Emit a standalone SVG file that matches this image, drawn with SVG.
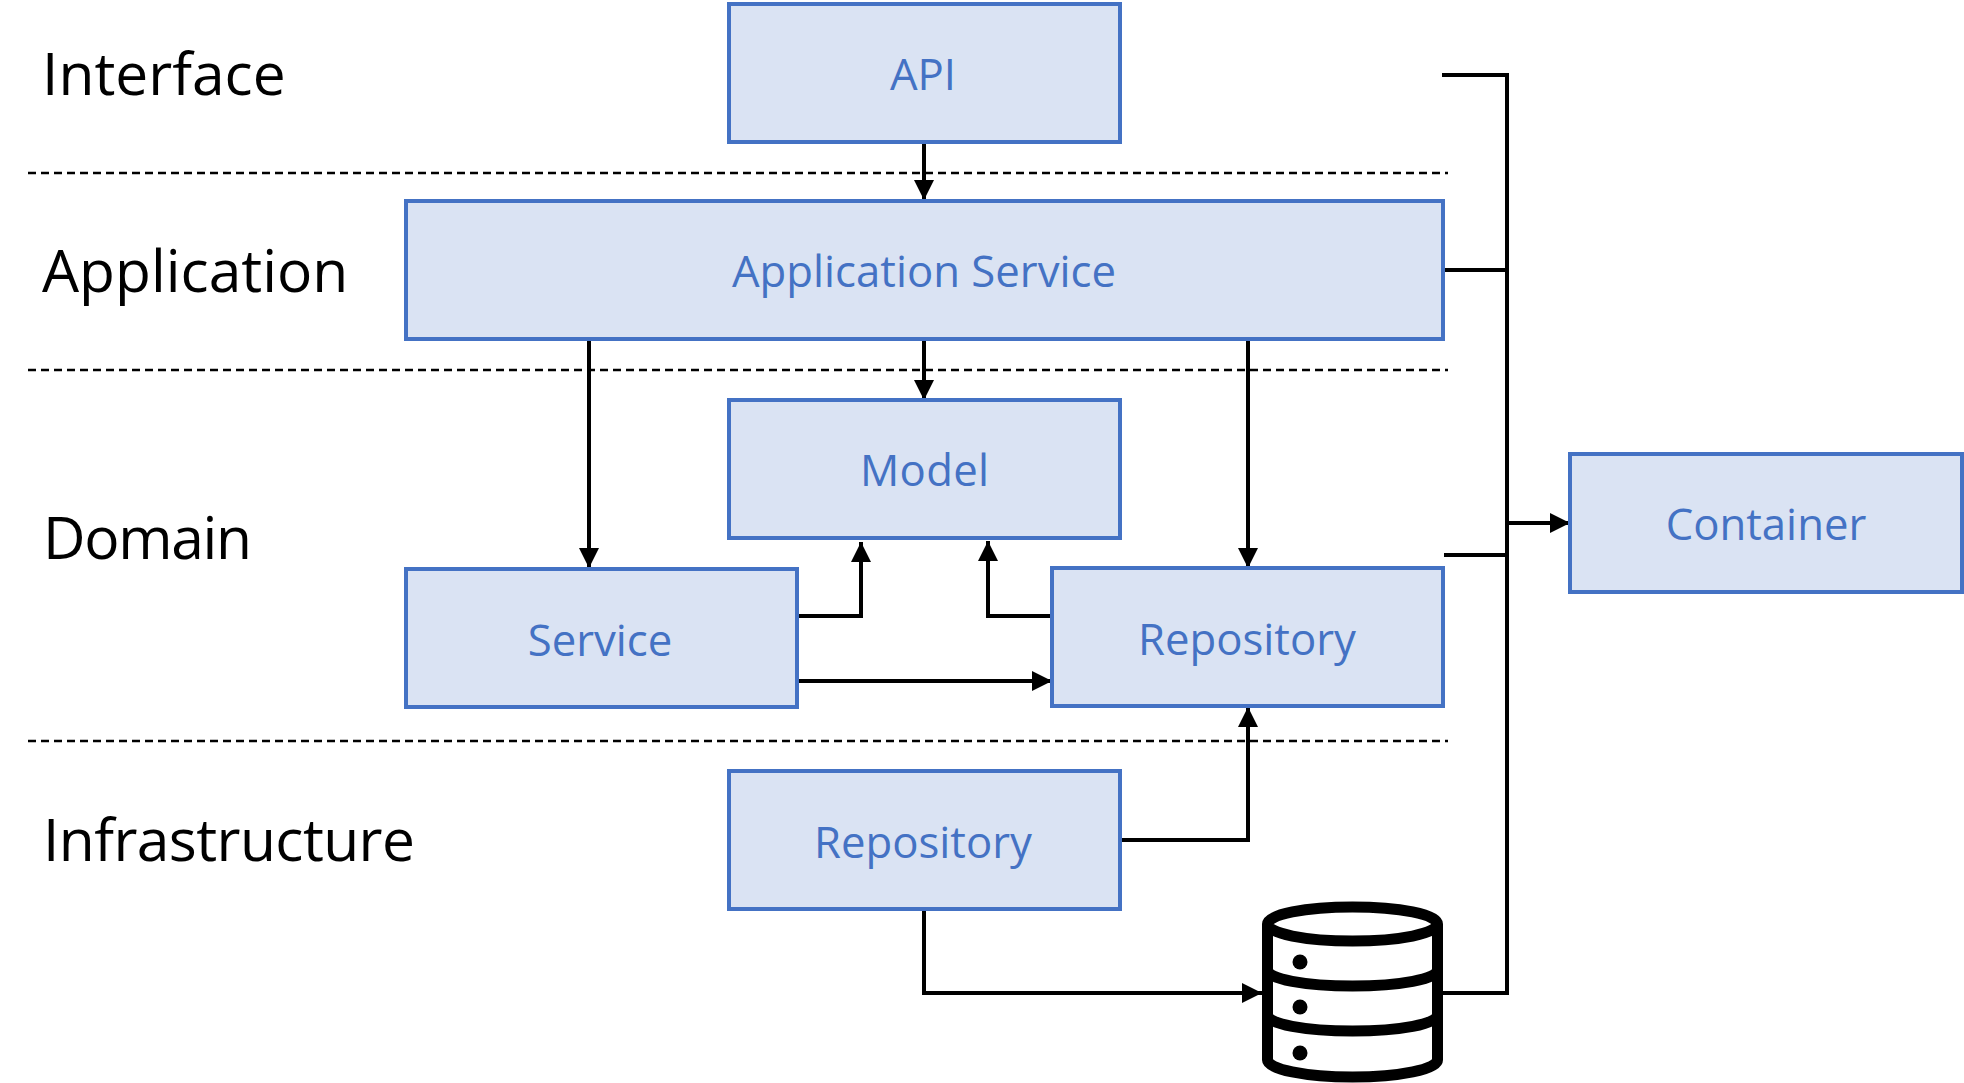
<svg xmlns="http://www.w3.org/2000/svg" width="1964" height="1083" viewBox="0 0 1964 1083">
<defs><marker id="a" markerUnits="userSpaceOnUse" markerWidth="22" markerHeight="22" refX="20" refY="11" orient="auto"><path d="M0 1L20 11L0 21Z" fill="#000"/></marker></defs>
<style>
.n{fill:#dae3f3;stroke:#4472c4;stroke-width:4}
.t{font-family:"Open Sans","Noto Sans",sans-serif;font-size:43.7px;fill:#4472c4;text-anchor:middle}
.l{font-family:"Open Sans","Noto Sans",sans-serif;font-size:58.7px;fill:#000}
.c{fill:none;stroke:#000;stroke-width:4}
.d{fill:none;stroke:#000;stroke-width:2.5;stroke-dasharray:8 5}
</style>
<rect width="1964" height="1083" fill="#fff"/>
<g id="labels">
<text class="l" x="42" y="95">Interface</text>
<text class="l" x="42" y="292">Application</text>
<text class="l" x="43" y="559" textLength="209">Domain</text>
<text class="l" x="43" y="861" textLength="372">Infrastructure</text>
</g>
<g id="dividers">
<path class="d" d="M28 173H1448M28 370H1448M28 741H1448"/>
</g>
<g id="connectors">
<path class="c" marker-end="url(#a)" d="M924 142V200"/>
<path class="c" marker-end="url(#a)" d="M924 339V400"/>
<path class="c" marker-end="url(#a)" d="M589 339V568"/>
<path class="c" marker-end="url(#a)" d="M1248 339V568"/>
<path class="c" marker-end="url(#a)" d="M798 616H861V542"/>
<path class="c" marker-end="url(#a)" d="M1051 616H988V541"/>
<path class="c" marker-end="url(#a)" d="M798 681H1052"/>
<path class="c" marker-end="url(#a)" d="M1120 840H1248V707"/>
<path class="c" marker-end="url(#a)" d="M924 909V993H1262"/>
<path class="c" d="M1442 75H1507V993H1442M1444 270H1507M1444 555H1507"/>
<path class="c" marker-end="url(#a)" d="M1507 523H1570"/>
</g>
<g id="api"><rect class="n" x="729" y="4" width="391" height="138"/><text class="t" x="923" y="90">API</text></g>
<g id="app"><rect class="n" x="406" y="201" width="1037" height="138"/><text class="t" x="924" y="287">Application Service</text></g>
<g id="model"><rect class="n" x="729" y="400" width="391" height="138"/><text class="t" x="924.5" y="486" textLength="129">Model</text></g>
<g id="service"><rect class="n" x="406" y="569" width="391" height="138"/><text class="t" x="600" y="656">Service</text></g>
<g id="repo-domain"><rect class="n" x="1052" y="568" width="391" height="138"/><text class="t" x="1247" y="655">Repository</text></g>
<g id="repo-infra"><rect class="n" x="729" y="771" width="391" height="138"/><text class="t" x="923" y="858">Repository</text></g>
<g id="container"><rect class="n" x="1570" y="454" width="392" height="138"/><text class="t" x="1766" y="540">Container</text></g>
<g id="database" fill="none" stroke="#000" stroke-width="11">
<ellipse cx="1352.5" cy="924" rx="85" ry="17"/>
<path d="M1267.5 924V1060C1267.5 1069 1305 1077 1352.5 1077C1400 1077 1437.5 1069 1437.5 1060V924"/>
<path d="M1267.5 970C1267.5 979 1305 986 1352.5 986C1400 986 1437.5 979 1437.5 970M1267.5 1015C1267.5 1024 1305 1031 1352.5 1031C1400 1031 1437.5 1024 1437.5 1015"/>
<g fill="#000" stroke="none"><circle cx="1300" cy="962" r="7.5"/><circle cx="1300" cy="1007" r="7.5"/><circle cx="1300" cy="1053" r="7.5"/></g>
</g>
</svg>
